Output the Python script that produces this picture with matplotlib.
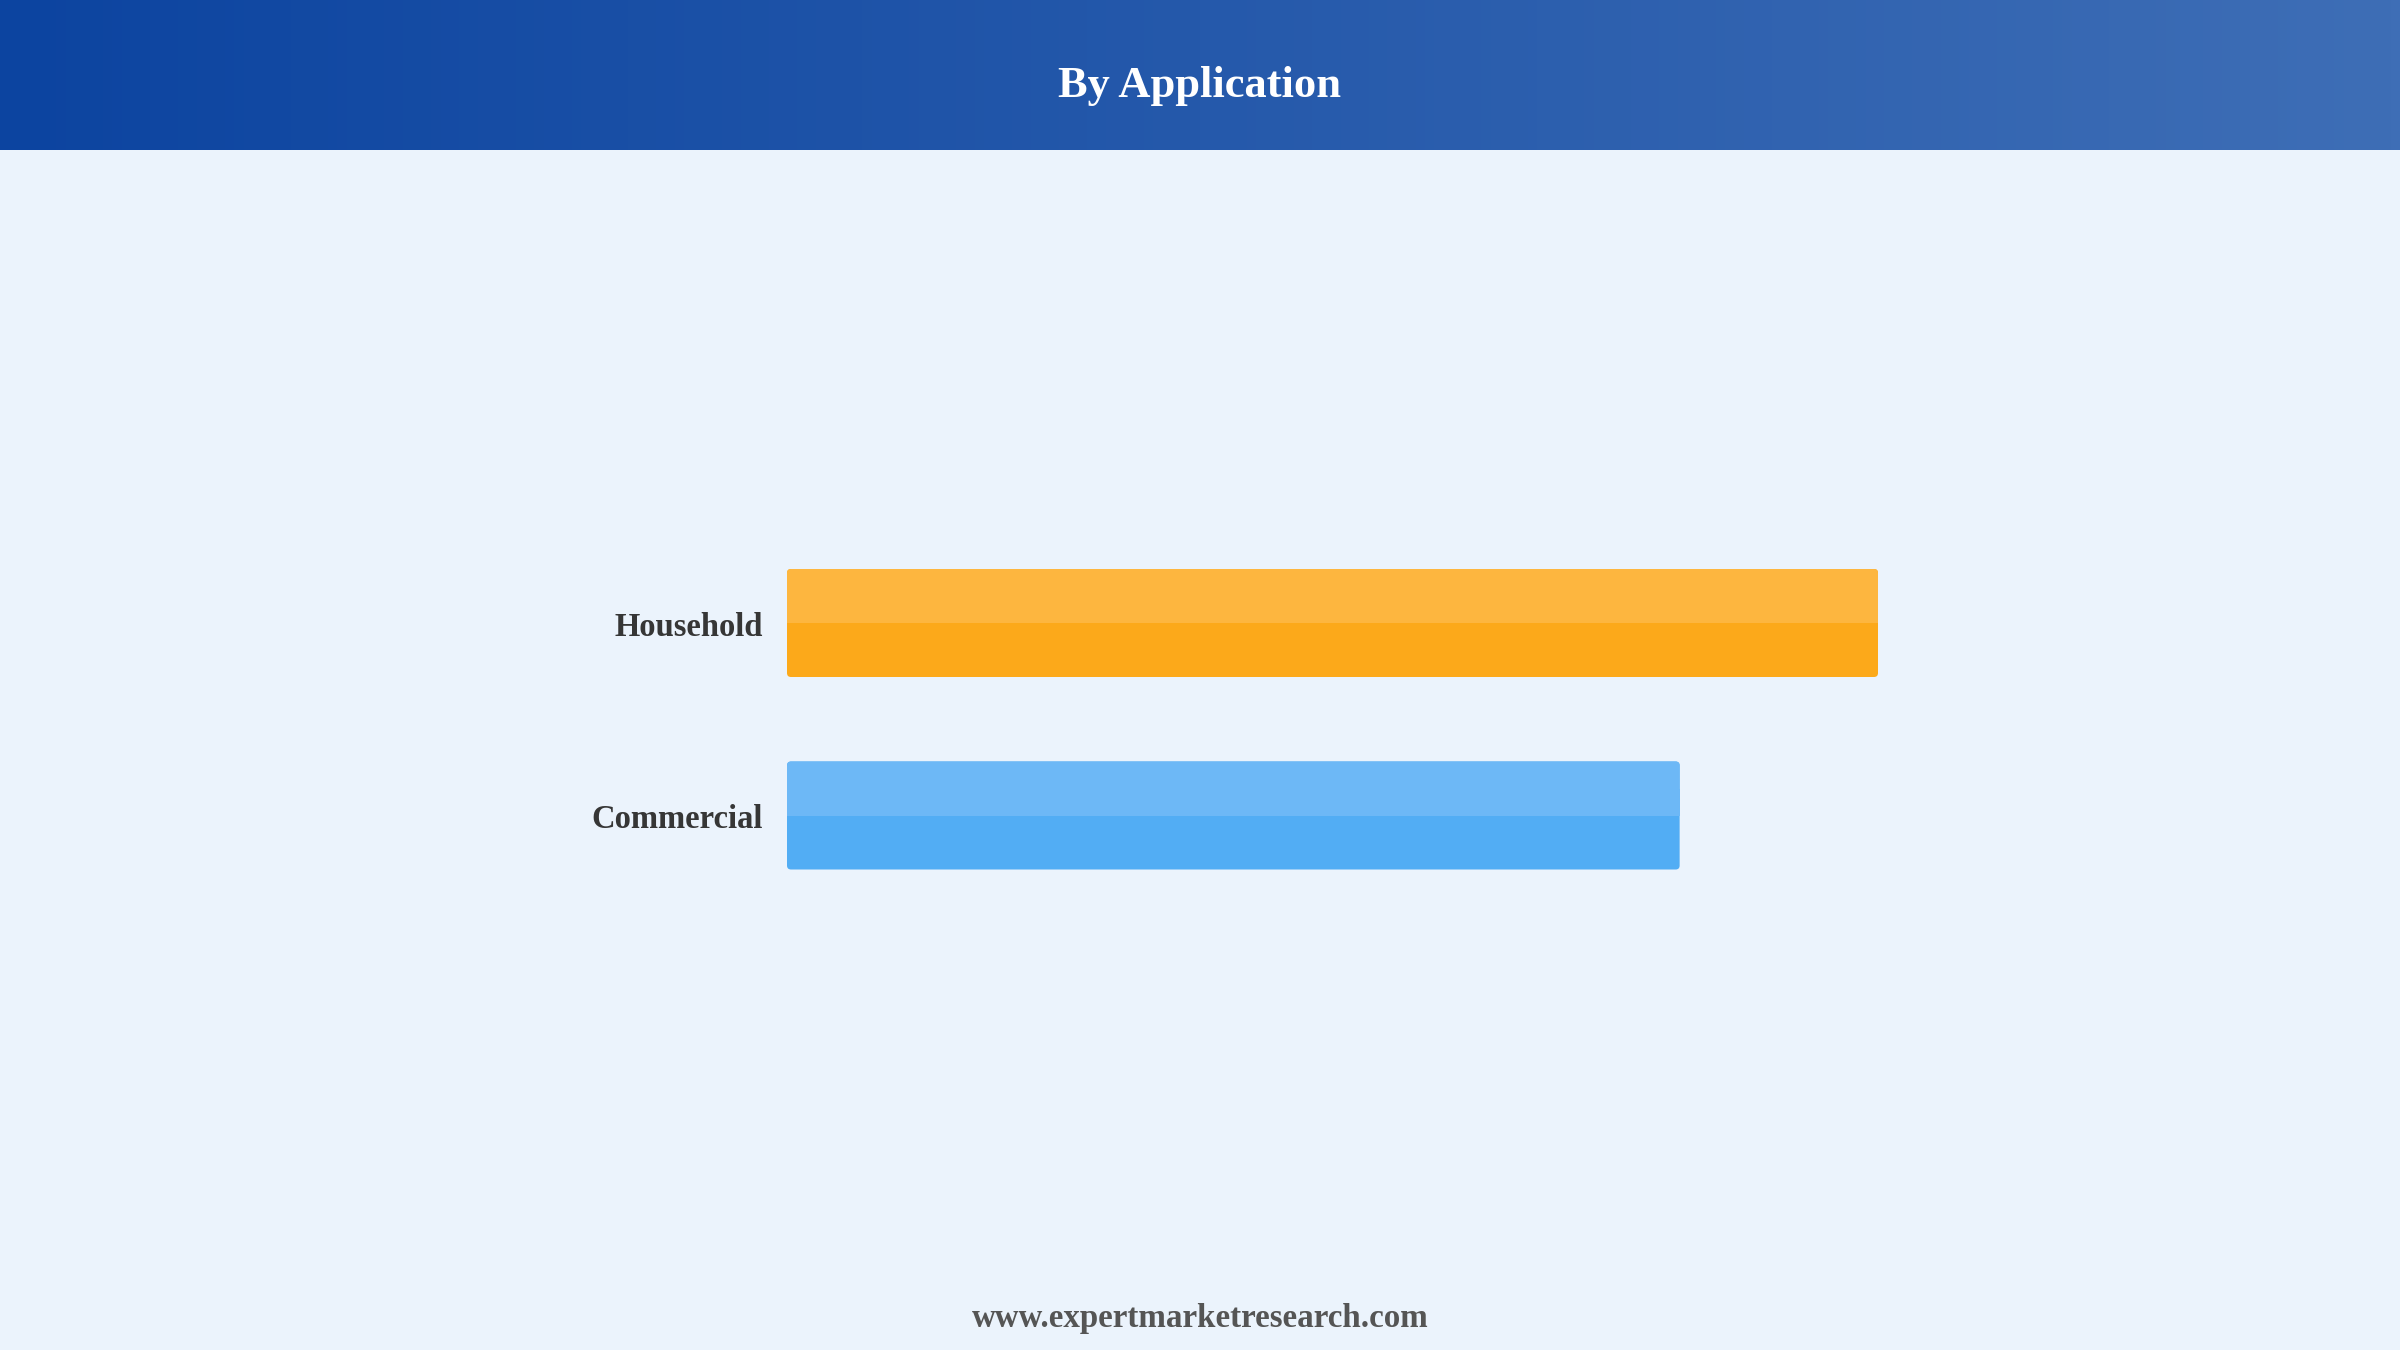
import numpy as np
import matplotlib.pyplot as plt
from matplotlib.patches import FancyBboxPatch

# data
categories = ['Household', 'Commercial']
shares = [55, 45]
light_colors = ['#FDB63F', '#6DB8F6']
dark_colors = ['#FCA91A', '#52ADF4']

W, H = 2400, 1350
fig = plt.figure(figsize=(24, 13.5), dpi=100)
fig.patch.set_facecolor('#EBF3FC')

# header band with horizontal gradient
hdr = fig.add_axes([0, 1 - 150 / H, 1, 150 / H])
left = np.array([12, 68, 160]) / 255
right = np.array([62, 110, 182]) / 255
t = np.linspace(0, 1, 256)[None, :, None]
grad = left + (right - left) * t
hdr.imshow(grad, aspect='auto', extent=[0, 1, 0, 1])
hdr.set_axis_off()
hdr.text(0.5, 0.43, 'By Application', ha='center', va='center', color='white',
         fontsize=32, fontweight='bold', family='Liberation Serif')

# bar area
spacing = 192.5
ax_left = 787 / W
unit_px = 1091 / shares[0]
ax_w = 60 * unit_px / W
ax_bottom = 1 - (815.5 + 0.5 * spacing) / H
ax_h = 2 * spacing / H
ax = fig.add_axes([ax_left, ax_bottom, ax_w, ax_h])
ax.set_facecolor('none')
ax.set_xlim(0, 60)
ax.set_ylim(1.5, -0.5)
ax.set_axis_off()

ypos = np.arange(len(categories))
bh = 108 / spacing
bars = ax.barh(ypos, shares, height=bh, color=dark_colors)

# aspect for rounded corners (data y per data x in pixels)
asp = (1 / spacing) / (1 / unit_px)
for b, lc, dc in zip(bars, light_colors, dark_colors):
    x, y, w, h = b.get_x(), b.get_y(), b.get_width(), b.get_height()
    b.set_visible(False)
    r = 4 / unit_px
    ax.add_patch(FancyBboxPatch((x, y), w, h, boxstyle=f'round,pad=0,rounding_size={r}',
                                mutation_aspect=asp, facecolor=dc, edgecolor='none'))
    ax.add_patch(FancyBboxPatch((x, y), w, h / 2, boxstyle=f'round,pad=0,rounding_size={r}',
                                mutation_aspect=asp, facecolor=lc, edgecolor='none'))
    ax.add_patch(plt.Rectangle((x, y + h / 4), w, h / 4, facecolor=lc, edgecolor='none'))

for yy, name in zip(ypos, categories):
    ax.text(-24 / unit_px, yy + 4.5 / spacing, name, ha='right', va='center', fontsize=23.5,
            fontweight='bold', color='#363636', family='Liberation Serif')

fig.text(0.5, 1 - 1319 / H, 'www.expertmarketresearch.com', ha='center', va='center',
         fontsize=23.8, fontweight='bold', color='#555555', family='Liberation Serif')

fig.savefig('out.png', dpi=100, facecolor=fig.get_facecolor())
